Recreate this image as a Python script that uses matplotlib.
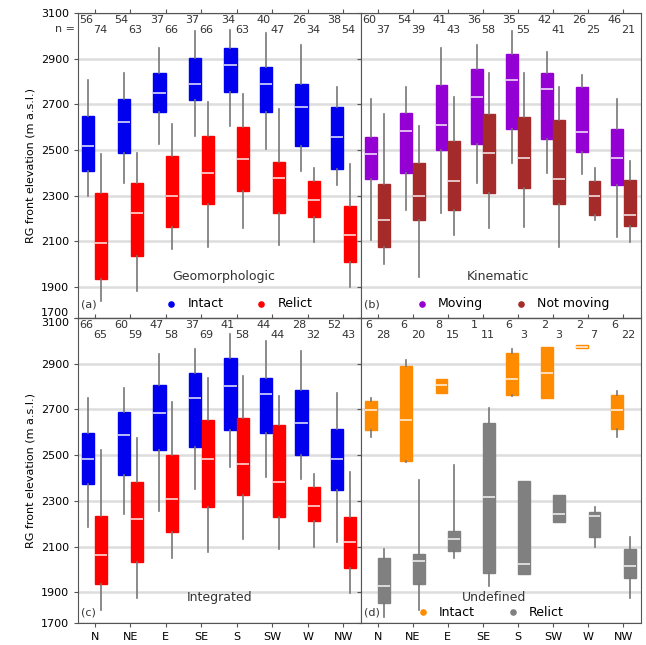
import matplotlib
matplotlib.use("Agg")
import matplotlib.pyplot as plt
import numpy as np

dirs = ["N", "NE", "E", "SE", "S", "SW", "W", "NW"]
yticks = [1700, 1900, 2100, 2300, 2500, 2700, 2900, 3100]
ybottom = 1765  # axes start a bit above 1700, the bottom tick is labelled 1700

# (a) Geomorphologic
a_int = dict(wlo=[2297, 2356, 2526, 2562, 2607, 2504, 2408, 2349],
             q1=[2408, 2489, 2666, 2717, 2754, 2666, 2518, 2415],
             med=[2518, 2624, 2749, 2791, 2872, 2791, 2688, 2555],
             q3=[2651, 2724, 2835, 2901, 2945, 2864, 2791, 2688],
             whi=[2806, 2835, 2945, 3019, 3026, 3012, 2960, 2776])
a_rel = dict(wlo=[1840, 1885, 2069, 2076, 2157, 2084, 2099, 1900],
             q1=[1937, 2035, 2165, 2265, 2319, 2224, 2209, 2010],
             med=[2091, 2224, 2297, 2400, 2459, 2378, 2283, 2128],
             q3=[2312, 2356, 2474, 2562, 2599, 2448, 2364, 2253],
             whi=[2481, 2489, 2614, 2710, 2747, 2680, 2423, 2437])
a_n1 = [56, 54, 37, 37, 34, 40, 26, 38]
a_n2 = [74, 63, 66, 66, 63, 47, 34, 54]

# (b) Kinematic
b_mov = dict(wlo=[2106, 2238, 2224, 2356, 2445, 2400, 2393, 2121],
             q1=[2371, 2400, 2501, 2526, 2592, 2548, 2492, 2349],
             med=[2481, 2585, 2610, 2732, 2805, 2769, 2577, 2467],
             q3=[2555, 2663, 2783, 2854, 2919, 2839, 2776, 2592],
             whi=[2724, 2776, 2945, 2960, 3019, 2931, 2828, 2724])
b_not = dict(wlo=[2003, 1944, 2128, 2157, 2165, 2076, 2194, 2099],
             q1=[2076, 2194, 2236, 2312, 2334, 2265, 2216, 2168],
             med=[2194, 2297, 2364, 2489, 2467, 2374, 2297, 2216],
             q3=[2353, 2445, 2540, 2658, 2643, 2633, 2364, 2368],
             whi=[2658, 2607, 2732, 2835, 2835, 2776, 2423, 2452])
b_n1 = [60, 54, 41, 36, 35, 42, 26, 46]
b_n2 = [37, 39, 43, 58, 55, 41, 25, 21]

# (c) Integrated
c_int = dict(wlo=[2184, 2243, 2257, 2353, 2449, 2404, 2394, 2118],
             q1=[2375, 2412, 2522, 2537, 2610, 2596, 2500, 2346],
             med=[2485, 2588, 2684, 2750, 2801, 2768, 2640, 2485],
             q3=[2596, 2688, 2806, 2860, 2926, 2838, 2787, 2615],
             whi=[2750, 2794, 2941, 2963, 3029, 3000, 2956, 2772])
c_rel = dict(wlo=[1824, 1875, 2051, 2074, 2132, 2088, 2096, 1897],
             q1=[1934, 2032, 2162, 2272, 2324, 2228, 2213, 2007],
             med=[2062, 2221, 2306, 2485, 2463, 2382, 2279, 2118],
             q3=[2232, 2382, 2500, 2654, 2662, 2632, 2360, 2228],
             whi=[2522, 2574, 2732, 2838, 2846, 2757, 2419, 2426])
c_n1 = [66, 60, 47, 37, 41, 44, 28, 52]
c_n2 = [65, 59, 58, 69, 58, 44, 32, 43]

# (d) Undefined  (SE intact: single value, no box)
nan = np.nan
d_int = dict(wlo=[2579, 2468, 2770, nan, 2757, 2750, 2968, 2579],
             q1=[2609, 2476, 2772, nan, 2762, 2750, 2970, 2616],
             med=[2697, 2653, 2806, nan, 2835, 2860, 2975, 2697],
             q3=[2735, 2888, 2831, nan, 2948, 2971, 2980, 2765],
             whi=[2750, 2918, 2833, nan, 2963, 2971, 2982, 2779])
d_rel = dict(wlo=[1790, 1824, 2051, 1926, 1978, 2206, 2096, 1875],
             q1=[1853, 1934, 2081, 1985, 1978, 2206, 2140, 1963],
             med=[1926, 2037, 2132, 2316, 2022, 2243, 2235, 2015],
             q3=[2051, 2066, 2169, 2640, 2385, 2324, 2250, 2088],
             whi=[2088, 2390, 2456, 2706, 2385, 2324, 2272, 2140])
d_n1 = [6, 6, 8, 1, 6, 2, 2, 6]
d_n2 = [28, 20, 15, 11, 3, 3, 7, 22]

panels = [
    (a_int, a_rel, a_n1, a_n2, "#0000ee", "#ff0000", "Intact", "Relict", "Geomorphologic", "(a)"),
    (b_mov, b_not, b_n1, b_n2, "#9400d3", "#a52a2a", "Moving", "Not moving", "Kinematic", "(b)"),
    (c_int, c_rel, c_n1, c_n2, "#0000ee", "#ff0000", None, None, "Integrated", "(c)"),
    (d_int, d_rel, d_n1, d_n2, "#ff8c00", "#808080", "Intact", "Relict", "Undefined", "(d)"),
]
axpos = [[0.121, 0.507, 0.438, 0.473], [0.559, 0.507, 0.433, 0.473],
         [0.121, 0.034, 0.438, 0.473], [0.559, 0.034, 0.433, 0.473]]
title_xy = [(0.514, 0.135), (0.49, 0.135), (0.50, 0.085), (0.475, 0.085)]
leg_xy = [(0.556, 0.0), (0.53, 0.0), None, (0.45, -0.01)]

fs = 8
fig = plt.figure(figsize=(6.46, 6.45), dpi=100)
x = np.arange(len(dirs))
off = 0.18
w = 0.34


def stats(s):
    out, pos = [], []
    for i in range(len(dirs)):
        if np.isnan(s["med"][i]):
            continue
        out.append(dict(med=s["med"][i], q1=s["q1"][i], q3=s["q3"][i],
                        whislo=s["wlo"][i], whishi=s["whi"][i], fliers=[]))
        pos.append(i)
    return out, np.array(pos)


for k, (s1, s2, n1, n2, c1, c2, l1, l2, title, lab) in enumerate(panels):
    ax = fig.add_axes(axpos[k])
    ax.set_axisbelow(True)
    for s, c, sh in [(s1, c1, -off), (s2, c2, off)]:
        st, p = stats(s)
        ax.bxp(st, positions=p + sh, widths=w, patch_artist=True,
               showcaps=False, showfliers=False,
               boxprops=dict(facecolor=c, edgecolor=c, linewidth=1),
               whiskerprops=dict(color="#777777", linewidth=1.2),
               medianprops=dict(color="white", linewidth=1.2, alpha=0.85))
    for i in range(len(dirs)):
        ax.text(x[i] - 0.25, 3070, str(n1[i]), fontsize=fs, ha="center", va="center", color="#333333")
        ax.text(x[i] + 0.15, 3027, str(n2[i]), fontsize=fs, ha="center", va="center", color="#333333")
    ax.set_xlim(-0.47, 7.5)
    ax.set_ylim(ybottom, 3100)
    ax.set_yticks([ybottom] + yticks[1:])
    ax.yaxis.grid(True, color="#dddddd", linewidth=1.8)
    ax.set_xticks(x)
    ax.tick_params(top=True, labelsize=fs, length=3, color="#555555")
    for sp in ax.spines.values():
        sp.set_color("#555555")
    if k % 2 == 0:
        ax.set_yticklabels([str(t) for t in yticks])
        ax.set_ylabel("RG front elevation (m a.s.l.)", fontsize=fs)
        tl = ax.get_yticklabels()
        if k == 0:
            tl[0].set_va("bottom")
        else:
            tl[-1].set_va("top")
    else:
        ax.set_yticklabels([])
    if k < 2:
        ax.set_xticklabels([])
    else:
        ax.set_xticklabels(dirs)
    if k == 0:
        ax.text(-0.01, 0.948, "n =", transform=ax.transAxes, fontsize=fs, ha="right", va="center", color="#333333")
    ax.text(title_xy[k][0], title_xy[k][1], title, transform=ax.transAxes, fontsize=fs + 1,
            ha="center", va="center", color="#333333")
    ax.text(0.01, 0.045 if k < 2 else 0.035, lab, transform=ax.transAxes, fontsize=fs,
            ha="left", va="center", color="#333333")
    if l1 is not None:
        h1 = ax.scatter([], [], s=14, color=c1, label=l1)
        h2 = ax.scatter([], [], s=14, color=c2, label=l2)
        ax.legend(handles=[h1, h2], loc="lower center", bbox_to_anchor=leg_xy[k],
                  ncol=2, frameon=False, fontsize=fs + 1, handletextpad=0.3,
                  columnspacing=2.0, borderaxespad=0.2)

fig.savefig("out.png", dpi=100)
